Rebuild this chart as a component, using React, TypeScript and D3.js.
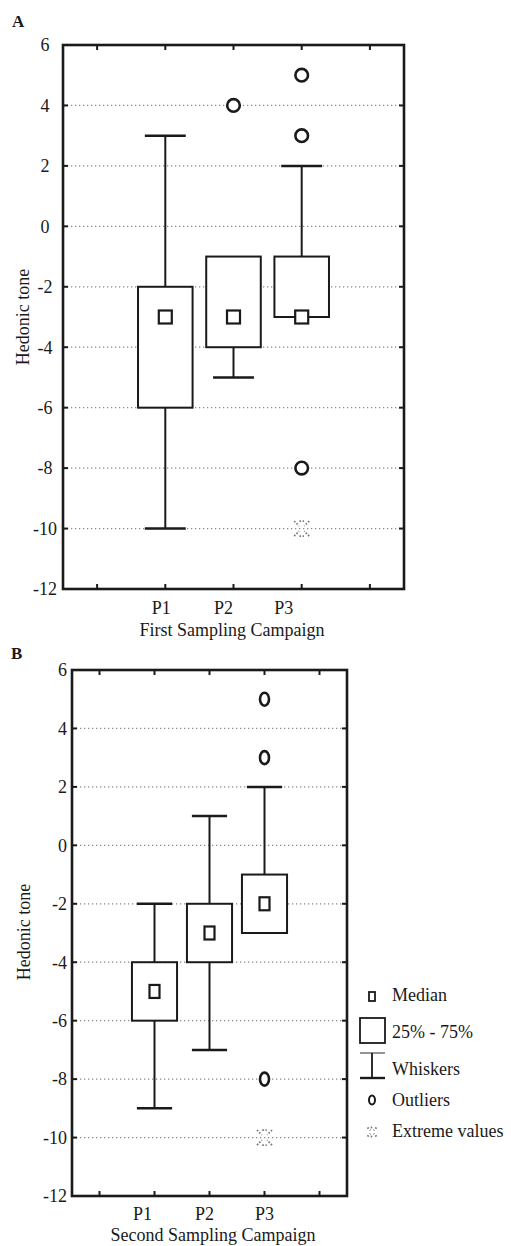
import React from "react";
import * as d3 from "d3";

const categories = ["P1", "P2", "P3"];
const yTicks = [6, 4, 2, 0, -2, -4, -6, -8, -10, -12];

// First sampling campaign
const c1Q1 = [-6, -4, -3];
const c1Q3 = [-2, -1, -1];
const c1Median = [-3, -3, -3];
const c1WhiskerLow = [-10, -5, -3];
const c1WhiskerHigh = [3, -1, 2];
const c1Outliers = [[], [4], [5, 3, -8]];
const c1Extremes = [[], [], [-10]];

// Second sampling campaign
const c2Q1 = [-6, -4, -3];
const c2Q3 = [-4, -2, -1];
const c2Median = [-5, -3, -2];
const c2WhiskerLow = [-9, -7, -3];
const c2WhiskerHigh = [-2, 1, 2];
const c2Outliers = [[], [], [5, 3, -8]];
const c2Extremes = [[], [], [-10]];

const legendItems = ["Median", "25% - 75%", "Whiskers", "Outliers", "Extreme values"];

const FONT = "Liberation Serif, Times New Roman, Times, serif";
const INK = "#1a1a1a";

type PanelProps = {
  letter: string;
  letterPos: [number, number];
  left: number; top: number; right: number; bottom: number;
  q1: number[]; q3: number[]; med: number[]; wLo: number[]; wHi: number[];
  outliers: number[][]; extremes: number[][];
  boxFrac: number; capFrac: number;
  medW: number; medH: number; outRx: number; outRy: number;
  tickLabelMode: "center" | "end"; tickLabelX: number;
  catLabelShift: number[]; catLabelY: number;
  title: string; titleX: number; titleY: number;
  yLabelX: number; yLabelY: number;
};

function ExtremeMark({ cx, cy, s }: { cx: number; cy: number; s: number }) {
  const h = s / 2;
  const segs = [
    [cx - h, cy - h, cx - h * 0.35, cy - h * 0.35],
    [cx + h, cy - h, cx + h * 0.35, cy - h * 0.35],
    [cx - h, cy + h, cx - h * 0.35, cy + h * 0.35],
    [cx + h, cy + h, cx + h * 0.35, cy + h * 0.35],
  ];
  return (
    <g stroke="#777" strokeWidth={1.8} strokeDasharray="1.6,1.6">
      {segs.map((s2, i) => (
        <line key={i} x1={s2[0]} y1={s2[1]} x2={s2[2]} y2={s2[3]} />
      ))}
      <line x1={cx - h * 0.3} y1={cy - h} x2={cx + h * 0.3} y2={cy - h} />
      <line x1={cx - h * 0.3} y1={cy + h} x2={cx + h * 0.3} y2={cy + h} />
    </g>
  );
}

function Panel(p: PanelProps) {
  const x = d3.scaleLinear().domain([0, 5]).range([p.left, p.right]);
  const y = d3.scaleLinear().domain([-12, 6]).range([p.bottom, p.top]);
  const band = x(1) - x(0);
  const xTicks = [0.5, 1.5, 2.5, 3.5, 4.5];
  const catPos = categories.map((_, i) => i + 1.5);
  const bw = band * p.boxFrac;
  const cw = band * p.capFrac;
  const tl = 5;
  return (
    <g style={{ fontFamily: FONT }} fill={INK}>
      <text x={p.letterPos[0]} y={p.letterPos[1]} fontWeight="bold" fontSize={17}>{p.letter}</text>
      {/* gridlines */}
      {yTicks.filter((t) => t > -12 && t < 6).map((t) => (
        <line key={"g" + t} x1={p.left} x2={p.right} y1={y(t)} y2={y(t)}
          stroke="#8a8a8a" strokeWidth={1.2} strokeDasharray="1.3,2.7" />
      ))}
      {/* y ticks & labels */}
      {yTicks.map((t) => (
        <g key={"t" + t}>
          <line x1={p.left} x2={p.left + tl} y1={y(t)} y2={y(t)} stroke={INK} strokeWidth={2} />
          <line x1={p.right} x2={p.right - tl} y1={y(t)} y2={y(t)} stroke={INK} strokeWidth={2} />
          <text x={p.tickLabelX} y={y(t)} dy="0.35em" fontSize={18}
            textAnchor={p.tickLabelMode === "center" ? "middle" : "end"}>{t}</text>
        </g>
      ))}
      {/* x ticks */}
      {xTicks.map((t) => (
        <g key={"x" + t}>
          <line x1={x(t)} x2={x(t)} y1={p.top} y2={p.top + tl} stroke={INK} strokeWidth={2} />
          <line x1={x(t)} x2={x(t)} y1={p.bottom} y2={p.bottom - tl} stroke={INK} strokeWidth={2} />
        </g>
      ))}
      {categories.map((c, i) => (
        <text key={c} x={x(catPos[i]) + p.catLabelShift[i]} y={p.catLabelY} fontSize={18} textAnchor="middle">{c}</text>
      ))}
      <text x={p.titleX} y={p.titleY} fontSize={18} textAnchor="middle">{p.title}</text>
      <text transform={`translate(${p.yLabelX},${p.yLabelY}) rotate(-90)`} fontSize={18} textAnchor="middle" dy="0.35em">Hedonic tone</text>
      {/* boxes */}
      {categories.map((c, i) => {
        const cx = x(catPos[i]);
        return (
          <g key={"b" + c} fill="none" stroke={INK} strokeWidth={2}>
            {p.wHi[i] > p.q3[i] && (
              <>
                <line x1={cx} x2={cx} y1={y(p.q3[i])} y2={y(p.wHi[i])} />
                <line x1={cx - cw / 2} x2={cx + cw / 2} y1={y(p.wHi[i])} y2={y(p.wHi[i])} strokeWidth={2.5} />
              </>
            )}
            {p.wLo[i] < p.q1[i] && (
              <>
                <line x1={cx} x2={cx} y1={y(p.q1[i])} y2={y(p.wLo[i])} />
                <line x1={cx - cw / 2} x2={cx + cw / 2} y1={y(p.wLo[i])} y2={y(p.wLo[i])} strokeWidth={2.5} />
              </>
            )}
            <rect x={cx - bw / 2} y={y(p.q3[i])} width={bw} height={y(p.q1[i]) - y(p.q3[i])} fill="white" />
            <rect x={cx - p.medW / 2} y={y(p.med[i]) - p.medH / 2} width={p.medW} height={p.medH} fill="white" strokeWidth={2.2} />
            {p.outliers[i].map((v, k) => (
              <ellipse key={k} cx={cx} cy={y(v)} rx={p.outRx} ry={p.outRy} fill="white" strokeWidth={2.6} />
            ))}
            {p.extremes[i].map((v, k) => (
              <ExtremeMark key={"e" + k} cx={cx} cy={y(v)} s={15} />
            ))}
          </g>
        );
      })}
      {/* frame */}
      <rect x={p.left} y={p.top} width={p.right - p.left} height={p.bottom - p.top}
        fill="none" stroke={INK} strokeWidth={2.6} />
    </g>
  );
}

export default function App() {
  const lx = 372;
  const lt = 392;
  return (
    <svg width={511} height={1246} style={{ position: "absolute", left: 0, top: 0, background: "white" }}>
      <rect width={511} height={1246} fill="white" />
      <Panel letter="A" letterPos={[12, 27]} left={63} top={45} right={404} bottom={589}
        q1={c1Q1} q3={c1Q3} med={c1Median} wLo={c1WhiskerLow} wHi={c1WhiskerHigh}
        outliers={c1Outliers} extremes={c1Extremes}
        boxFrac={0.8} capFrac={0.6} medW={13} medH={13} outRx={6.3} outRy={6.3}
        tickLabelMode="center" tickLabelX={45}
        catLabelShift={[-4, -10, -18]} catLabelY={614}
        title="First Sampling Campaign" titleX={232} titleY={636}
        yLabelX={23} yLabelY={317} />
      <Panel letter="B" letterPos={[11, 659]} left={72} top={670} right={347} bottom={1196}
        q1={c2Q1} q3={c2Q3} med={c2Median} wLo={c2WhiskerLow} wHi={c2WhiskerHigh}
        outliers={c2Outliers} extremes={c2Extremes}
        boxFrac={0.82} capFrac={0.64} medW={10} medH={13} outRx={4.5} outRy={6.5}
        tickLabelMode="end" tickLabelX={67}
        catLabelShift={[-12, -5, 0]} catLabelY={1220}
        title="Second Sampling Campaign" titleX={213} titleY={1241}
        yLabelX={24} yLabelY={932} />
      {/* legend */}
      <g style={{ fontFamily: FONT }} fill={INK} fontSize={18}>
        <rect x={lx - 3} y={992} width={6} height={9} fill="white" stroke={INK} strokeWidth={1.8} />
        <text x={lt} y={1001}>{legendItems[0]}</text>
        <rect x={360} y={1018} width={25} height={25} fill="white" stroke={INK} strokeWidth={1.8} />
        <text x={lt} y={1038}>{legendItems[1]}</text>
        <g stroke={INK} strokeWidth={1.8}>
          <line x1={360} x2={385} y1={1053} y2={1053} stroke="#888" />
          <line x1={lx} x2={lx} y1={1053} y2={1078} />
          <line x1={360} x2={385} y1={1078} y2={1078} strokeWidth={2.4} />
        </g>
        <text x={lt} y={1075}>{legendItems[2]}</text>
        <ellipse cx={lx} cy={1100} rx={3} ry={4.5} fill="white" stroke={INK} strokeWidth={2} />
        <text x={lt} y={1106}>{legendItems[3]}</text>
        <ExtremeMark cx={lx} cy={1132} s={9} />
        <text x={lt} y={1137}>{legendItems[4]}</text>
      </g>
    </svg>
  );
}
